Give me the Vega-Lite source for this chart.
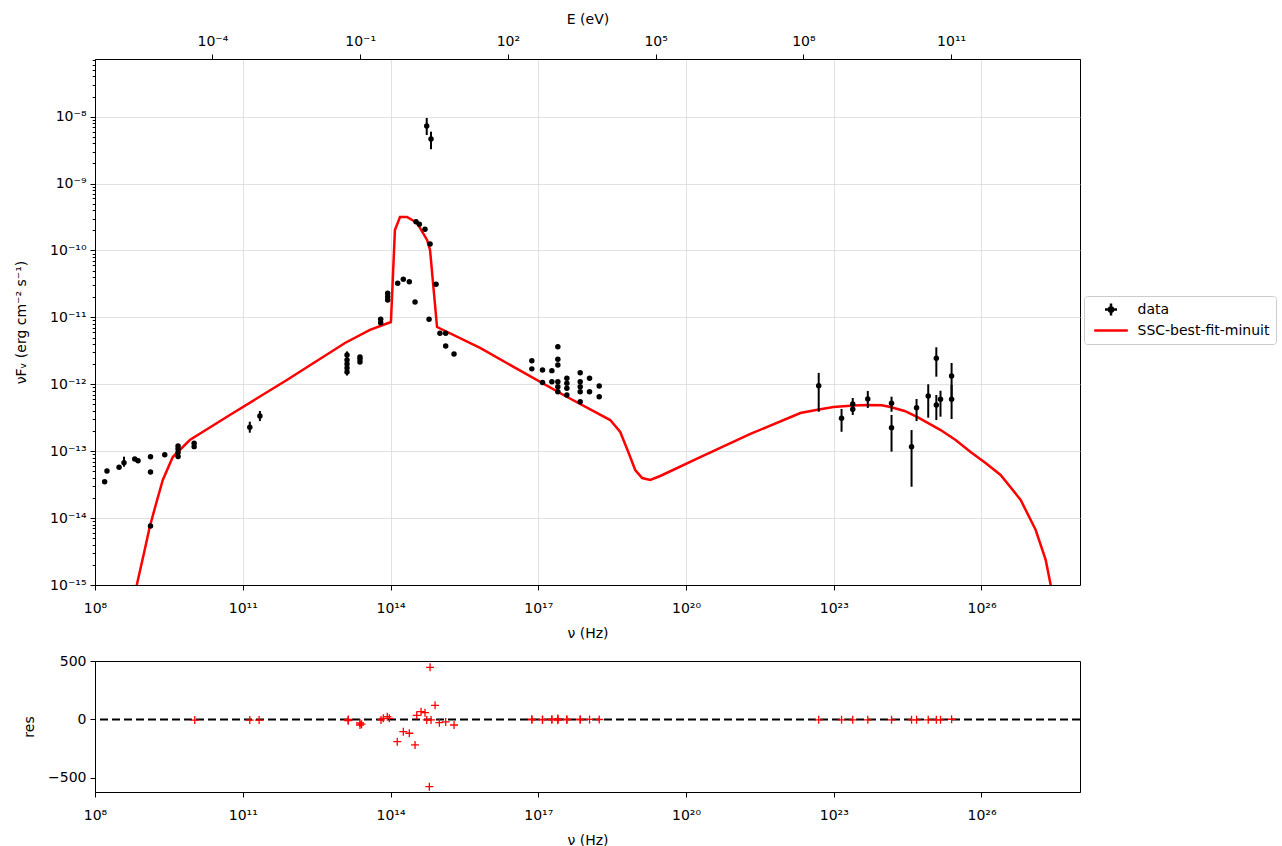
{
  "$schema": "https://vega.github.io/schema/vega-lite/v6.json",
  "padding": {"left": 14, "top": 11, "right": 0, "bottom": 0},
  "background": "white",
  "config": {
    "font": "DejaVu Sans",
    "view": {"stroke": "black", "strokeWidth": 1},
    "axis": {
      "labelFont": "DejaVu Sans", "labelFontSize": 14, "labelColor": "black",
      "titleFont": "DejaVu Sans", "titleFontSize": 14, "titleFontWeight": "normal", "titleColor": "black",
      "domainColor": "black", "tickColor": "black", "tickSize": 5, "labelPadding": 4,
      "gridColor": "#d9d9d9", "gridWidth": 0.8, "labelFlush": false, "labelOverlap": false
    }
  },
  "datasets": {
    "points": [
      {"nu": 1.57e8, "flux": 3.5e-14},
      {"nu": 1.75e8, "flux": 5.06e-14},
      {"nu": 3.08e8, "flux": 5.74e-14},
      {"nu": 3.88e8, "flux": 6.73e-14, "lo": 5.86e-14, "hi": 8.28e-14},
      {"nu": 6.41e8, "flux": 7.64e-14},
      {"nu": 7.48e8, "flux": 7.21e-14},
      {"nu": 1.34e9, "flux": 8.28e-14},
      {"nu": 1.34e9, "flux": 4.89e-14},
      {"nu": 1.34e9, "flux": 7.62e-15},
      {"nu": 2.61e9, "flux": 8.87e-14},
      {"nu": 4.86e9, "flux": 1.2e-13},
      {"nu": 4.86e9, "flux": 1.08e-13},
      {"nu": 4.86e9, "flux": 9.6e-14},
      {"nu": 4.86e9, "flux": 8.3e-14},
      {"nu": 1.03e10, "flux": 1.31e-13},
      {"nu": 1.03e10, "flux": 1.17e-13},
      {"nu": 1.39e11, "flux": 2.28e-13, "lo": 1.89e-13, "hi": 2.76e-13},
      {"nu": 2.23e11, "flux": 3.36e-13, "lo": 2.82e-13, "hi": 3.99e-13},
      {"nu": 1.31e13, "flux": 2.74e-12, "lo": 2.4e-12, "hi": 3.1e-12},
      {"nu": 1.31e13, "flux": 2.31e-12},
      {"nu": 1.31e13, "flux": 2.01e-12},
      {"nu": 1.31e13, "flux": 1.75e-12},
      {"nu": 1.31e13, "flux": 1.53e-12, "lo": 1.35e-12, "hi": 1.75e-12},
      {"nu": 2.4e13, "flux": 2.56e-12},
      {"nu": 2.4e13, "flux": 2.39e-12},
      {"nu": 2.4e13, "flux": 2.15e-12},
      {"nu": 6.32e13, "flux": 9.38e-12},
      {"nu": 6.32e13, "flux": 8.34e-12},
      {"nu": 8.77e13, "flux": 2.29e-11},
      {"nu": 8.77e13, "flux": 2.04e-11},
      {"nu": 8.77e13, "flux": 1.82e-11},
      {"nu": 1.4e14, "flux": 3.24e-11},
      {"nu": 1.82e14, "flux": 3.72e-11},
      {"nu": 2.41e14, "flux": 3.42e-11},
      {"nu": 3.15e14, "flux": 1.7e-11},
      {"nu": 3.3e14, "flux": 2.69e-10},
      {"nu": 3.85e14, "flux": 2.47e-10},
      {"nu": 5.02e14, "flux": 2.08e-10},
      {"nu": 5.44e14, "flux": 7.26e-9, "lo": 5.32e-9, "hi": 9.57e-9},
      {"nu": 6.07e14, "flux": 9.38e-12},
      {"nu": 6.36e14, "flux": 1.25e-10},
      {"nu": 6.65e14, "flux": 4.65e-9, "lo": 3.26e-9, "hi": 5.97e-9},
      {"nu": 8.41e14, "flux": 3.13e-11},
      {"nu": 1.01e15, "flux": 5.78e-12},
      {"nu": 1.32e15, "flux": 5.78e-12},
      {"nu": 1.32e15, "flux": 3.73e-12},
      {"nu": 1.95e15, "flux": 2.84e-12},
      {"nu": 7.41e16, "flux": 2.25e-12},
      {"nu": 7.41e16, "flux": 1.7e-12},
      {"nu": 1.22e17, "flux": 1.64e-12},
      {"nu": 1.22e17, "flux": 1.06e-12},
      {"nu": 1.89e17, "flux": 1.6e-12},
      {"nu": 1.89e17, "flux": 1.09e-12},
      {"nu": 2.5e17, "flux": 3.65e-12},
      {"nu": 2.5e17, "flux": 2.37e-12},
      {"nu": 2.5e17, "flux": 1.95e-12},
      {"nu": 2.5e17, "flux": 1.09e-12},
      {"nu": 2.5e17, "flux": 9.2e-13},
      {"nu": 2.5e17, "flux": 7.74e-13},
      {"nu": 3.81e17, "flux": 1.23e-12},
      {"nu": 3.81e17, "flux": 1.04e-12},
      {"nu": 3.81e17, "flux": 8.71e-13},
      {"nu": 3.81e17, "flux": 6.92e-13},
      {"nu": 7.11e17, "flux": 1.49e-12},
      {"nu": 7.11e17, "flux": 1.09e-12},
      {"nu": 7.11e17, "flux": 9.2e-13},
      {"nu": 7.11e17, "flux": 7.74e-13},
      {"nu": 7.11e17, "flux": 5.5e-13},
      {"nu": 1.1e18, "flux": 1.23e-12},
      {"nu": 1.1e18, "flux": 7.74e-13},
      {"nu": 1.73e18, "flux": 9.44e-13},
      {"nu": 1.73e18, "flux": 6.53e-13},
      {"nu": 4.95e22, "flux": 9.53e-13, "lo": 3.89e-13, "hi": 1.48e-12},
      {"nu": 1.44e23, "flux": 3.1e-13, "lo": 1.95e-13, "hi": 4.28e-13},
      {"nu": 2.43e23, "flux": 5.08e-13, "lo": 3.99e-13, "hi": 6.24e-13},
      {"nu": 2.43e23, "flux": 4.23e-13, "lo": 3.48e-13, "hi": 5.08e-13},
      {"nu": 4.91e23, "flux": 6.03e-13, "lo": 4.43e-13, "hi": 7.94e-13},
      {"nu": 1.49e24, "flux": 5.2e-13, "lo": 3.89e-13, "hi": 6.53e-13},
      {"nu": 1.49e24, "flux": 2.24e-13, "lo": 9.84e-14, "hi": 3.48e-13},
      {"nu": 3.8e24, "flux": 1.17e-13, "lo": 2.94e-14, "hi": 2.07e-13},
      {"nu": 4.8e24, "flux": 4.47e-13, "lo": 2.82e-13, "hi": 6.03e-13},
      {"nu": 8.29e24, "flux": 6.68e-13, "lo": 3.17e-13, "hi": 1.0e-12},
      {"nu": 1.21e25, "flux": 2.45e-12, "lo": 1.3e-12, "hi": 3.57e-12},
      {"nu": 1.21e25, "flux": 4.91e-13, "lo": 2.92e-13, "hi": 6.92e-13},
      {"nu": 1.47e25, "flux": 5.97e-13, "lo": 3.28e-13, "hi": 8.01e-13},
      {"nu": 2.47e25, "flux": 1.33e-12, "lo": 6.24e-13, "hi": 2.08e-12},
      {"nu": 2.47e25, "flux": 5.97e-13, "lo": 3.03e-13, "hi": 9.77e-13}
    ],
    "model": [
      {"nu": 5.83e8, "flux": 5.01e-16},
      {"nu": 7.05e8, "flux": 1.0e-15},
      {"nu": 1.02e9, "flux": 3.33e-15},
      {"nu": 1.29e9, "flux": 7.36e-15},
      {"nu": 1.71e9, "flux": 1.57e-14},
      {"nu": 2.38e9, "flux": 3.72e-14},
      {"nu": 3.79e9, "flux": 8.18e-14},
      {"nu": 8.41e9, "flux": 1.47e-13},
      {"nu": 5.47e10, "flux": 3.48e-13},
      {"nu": 7.87e11, "flux": 1.16e-12},
      {"nu": 1.19e13, "flux": 4.14e-12},
      {"nu": 3.83e13, "flux": 6.49e-12},
      {"nu": 1.02e14, "flux": 8.53e-12},
      {"nu": 1.23e14, "flux": 2.02e-10},
      {"nu": 1.56e14, "flux": 3.17e-10},
      {"nu": 2.16e14, "flux": 3.17e-10},
      {"nu": 3.46e14, "flux": 2.58e-10},
      {"nu": 5.52e14, "flux": 1.44e-10},
      {"nu": 6.35e14, "flux": 1.02e-10},
      {"nu": 8.81e14, "flux": 7.18e-12},
      {"nu": 6.59e15, "flux": 3.49e-12},
      {"nu": 3.86e17, "flux": 6.46e-13},
      {"nu": 2.89e18, "flux": 2.92e-13},
      {"nu": 4.62e18, "flux": 1.94e-13},
      {"nu": 6.73e18, "flux": 9.73e-14},
      {"nu": 9.31e18, "flux": 5.24e-14},
      {"nu": 1.29e19, "flux": 3.97e-14},
      {"nu": 1.88e19, "flux": 3.72e-14},
      {"nu": 3.0e19, "flux": 4.26e-14},
      {"nu": 1.95e20, "flux": 8.18e-14},
      {"nu": 2.03e21, "flux": 1.81e-13},
      {"nu": 2.1e22, "flux": 3.72e-13},
      {"nu": 4.67e22, "flux": 4.16e-13},
      {"nu": 9.86e22, "flux": 4.58e-13},
      {"nu": 2.52e23, "flux": 4.82e-13},
      {"nu": 4.84e23, "flux": 4.91e-13},
      {"nu": 9.38e23, "flux": 4.85e-13},
      {"nu": 1.42e24, "flux": 4.58e-13},
      {"nu": 2.74e24, "flux": 3.99e-13},
      {"nu": 5.02e24, "flux": 3.24e-13},
      {"nu": 1.48e25, "flux": 2.07e-13},
      {"nu": 2.98e25, "flux": 1.47e-13},
      {"nu": 6.0e25, "flux": 9.73e-14},
      {"nu": 1.21e26, "flux": 6.67e-14},
      {"nu": 2.44e26, "flux": 4.41e-14},
      {"nu": 6.24e26, "flux": 1.87e-14},
      {"nu": 1.26e27, "flux": 6.64e-15},
      {"nu": 2.01e27, "flux": 2.37e-15},
      {"nu": 2.54e27, "flux": 1.0e-15},
      {"nu": 2.92e27, "flux": 5.01e-16}
    ],
    "residuals": [
      {"nu": 1.06e10, "res": -5},
      {"nu": 1.39e11, "res": -5},
      {"nu": 2.15e11, "res": -5},
      {"nu": 1.39e13, "res": -10},
      {"nu": 1.39e13, "res": 0},
      {"nu": 1.39e13, "res": -5},
      {"nu": 2.4e13, "res": -30},
      {"nu": 2.59e13, "res": -40},
      {"nu": 2.4e13, "res": -47},
      {"nu": 6.41e13, "res": -4},
      {"nu": 7.14e13, "res": 10},
      {"nu": 8.61e13, "res": 24},
      {"nu": 9.46e13, "res": 10},
      {"nu": 1.37e14, "res": -190},
      {"nu": 1.82e14, "res": -104},
      {"nu": 2.41e14, "res": -118},
      {"nu": 3.15e14, "res": -218},
      {"nu": 3.41e14, "res": 36},
      {"nu": 4.17e14, "res": 67},
      {"nu": 5.02e14, "res": 58},
      {"nu": 5.44e14, "res": -4},
      {"nu": 6.15e14, "res": -575},
      {"nu": 6.36e14, "res": 447},
      {"nu": 6.65e14, "res": -4},
      {"nu": 8.03e14, "res": 121},
      {"nu": 9.82e14, "res": -27},
      {"nu": 1.32e15, "res": -21},
      {"nu": 1.95e15, "res": -47},
      {"nu": 7.41e16, "res": 3},
      {"nu": 7.41e16, "res": -2},
      {"nu": 1.22e17, "res": -4},
      {"nu": 1.22e17, "res": 1},
      {"nu": 1.89e17, "res": 2},
      {"nu": 1.89e17, "res": -3},
      {"nu": 2.5e17, "res": 8},
      {"nu": 2.5e17, "res": 0},
      {"nu": 2.5e17, "res": -6},
      {"nu": 3.81e17, "res": 2},
      {"nu": 3.81e17, "res": -4},
      {"nu": 7.11e17, "res": 3},
      {"nu": 7.11e17, "res": -2},
      {"nu": 1.1e18, "res": 1},
      {"nu": 1.73e18, "res": 0},
      {"nu": 4.95e22, "res": -3},
      {"nu": 1.44e23, "res": -3},
      {"nu": 2.43e23, "res": -3},
      {"nu": 4.91e23, "res": -3},
      {"nu": 1.49e24, "res": -3},
      {"nu": 3.8e24, "res": -3},
      {"nu": 4.8e24, "res": -3},
      {"nu": 8.29e24, "res": -3},
      {"nu": 1.21e25, "res": -3},
      {"nu": 1.47e25, "res": -3},
      {"nu": 2.47e25, "res": 2}
    ]
  },
  "resolve": {"legend": {"color": "independent"}},
  "spacing": 12,
  "vconcat": [
    {
      "width": 985,
      "height": 526,
      "resolve": {"scale": {"x": "independent"}},
      "layer": [
        {
          "layer": [
            {
              "data": {"name": "model"},
              "mark": {"type": "line", "strokeWidth": 2.5, "clip": true},
              "encoding": {
                "x": {"field": "nu", "type": "quantitative",
                  "scale": {"type": "log", "domain": [1e8, 1e28], "nice": false},
                  "axis": {"values": [1e8, 1e11, 1e14, 1e17, 1e20, 1e23, 1e26], "title": "ν  (Hz)", "grid": true, "labelPadding": 11, "titlePadding": 11,
                    "labelExpr": "'10' + replace(replace(replace(replace(replace(replace(replace(replace(replace(replace(replace(''+round(log(datum.value)/LN10),regexp('-','g'),'⁻'),regexp('0','g'),'⁰'),regexp('1','g'),'¹'),regexp('2','g'),'²'),regexp('3','g'),'³'),regexp('4','g'),'⁴'),regexp('5','g'),'⁵'),regexp('6','g'),'⁶'),regexp('7','g'),'⁷'),regexp('8','g'),'⁸'),regexp('9','g'),'⁹')"}},
                "y": {"field": "flux", "type": "quantitative",
                  "scale": {"type": "log", "domain": [1e-15, 7.28e-8], "nice": false},
                  "axis": {
                    "title": "νFᵥ  (erg cm⁻²  s⁻¹)",
                    "titlePadding": 21,
                    "grid": true,
                    "values": [1e-15, 2e-15, 3e-15, 4e-15, 5e-15, 6e-15, 7e-15, 8e-15, 9e-15,
                      1e-14, 2e-14, 3e-14, 4e-14, 5e-14, 6e-14, 7e-14, 8e-14, 9e-14,
                      1e-13, 2e-13, 3e-13, 4e-13, 5e-13, 6e-13, 7e-13, 8e-13, 9e-13,
                      1e-12, 2e-12, 3e-12, 4e-12, 5e-12, 6e-12, 7e-12, 8e-12, 9e-12,
                      1e-11, 2e-11, 3e-11, 4e-11, 5e-11, 6e-11, 7e-11, 8e-11, 9e-11,
                      1e-10, 2e-10, 3e-10, 4e-10, 5e-10, 6e-10, 7e-10, 8e-10, 9e-10,
                      1e-9, 2e-9, 3e-9, 4e-9, 5e-9, 6e-9, 7e-9, 8e-9, 9e-9,
                      1e-8, 2e-8, 3e-8, 4e-8, 5e-8, 6e-8, 7e-8],
                    "tickSize": {"condition": {"test": "abs(log(datum.value)/LN10 - round(log(datum.value)/LN10)) < 0.01", "value": 5}, "value": 2.8},
                    "gridOpacity": {"condition": {"test": "abs(log(datum.value)/LN10 - round(log(datum.value)/LN10)) < 0.01", "value": 1}, "value": 0},
                    "labelExpr": "abs(log(datum.value)/LN10 - round(log(datum.value)/LN10)) < 0.01 ? '10' + replace(replace(replace(replace(replace(replace(replace(replace(replace(replace(replace(''+round(log(datum.value)/LN10),regexp('-','g'),'⁻'),regexp('0','g'),'⁰'),regexp('1','g'),'¹'),regexp('2','g'),'²'),regexp('3','g'),'³'),regexp('4','g'),'⁴'),regexp('5','g'),'⁵'),regexp('6','g'),'⁶'),regexp('7','g'),'⁷'),regexp('8','g'),'⁸'),regexp('9','g'),'⁹') : ''"
                  }},
                "color": {"datum": "SSC-best-fit-minuit"}
              }
            },
            {
              "data": {"name": "points"},
              "transform": [{"filter": "isValid(datum.lo)"}],
              "mark": {"type": "rule", "color": "black", "strokeWidth": 2},
              "encoding": {
                "x": {"field": "nu", "type": "quantitative"},
                "y": {"field": "lo", "type": "quantitative", "axis": {"title": "νFᵥ  (erg cm⁻²  s⁻¹)"}},
                "y2": {"field": "hi"}
              }
            },
            {
              "data": {"name": "points"},
              "mark": {"type": "point", "filled": true, "size": 30, "opacity": 1},
              "encoding": {
                "x": {"field": "nu", "type": "quantitative"},
                "y": {"field": "flux", "type": "quantitative", "axis": {"title": "νFᵥ  (erg cm⁻²  s⁻¹)"}},
                "color": {
                  "datum": "data",
                  "scale": {"domain": ["data", "SSC-best-fit-minuit"], "range": ["black", "red"]},
                  "legend": {
                    "title": null, "orient": "none", "legendX": 989, "legendY": 237,
                    "padding": 6, "strokeColor": "#cccccc", "fillColor": "white", "cornerRadius": 3,
                    "labelFontSize": 14, "labelFont": "DejaVu Sans", "labelColor": "black",
                    "symbolSize": 144, "symbolStrokeWidth": 2.5, "symbolOffset": 13.5, "labelOffset": 19, "rowPadding": 2,
                    "symbolOpacity": 1,
                    "symbolType": {"expr": "datum.value === 'data' ? 'M-1,0H1M0,-1V1M0.35,0A0.35,0.35,0,1,1,-0.35,0A0.35,0.35,0,1,1,0.35,0' : 'M-2.8,0H2.8'"},
                    "symbolStrokeColor": {"expr": "datum.value === 'data' ? 'black' : 'red'"}
                  }
                }
              }
            }
          ]
        },
        {
          "mark": {"type": "rule", "opacity": 0},
          "encoding": {
            "x": {"datum": 1, "type": "quantitative",
              "scale": {"type": "log", "domain": [4.1357e-7, 4.1357e13], "nice": false},
              "axis": {"orient": "top", "title": "E (eV)", "grid": false, "labelPadding": 6, "titlePadding": 8, "values": [1e-4, 1e-1, 1e2, 1e5, 1e8, 1e11],
                "labelExpr": "'10' + replace(replace(replace(replace(replace(replace(replace(replace(replace(replace(replace(''+round(log(datum.value)/LN10),regexp('-','g'),'⁻'),regexp('0','g'),'⁰'),regexp('1','g'),'¹'),regexp('2','g'),'²'),regexp('3','g'),'³'),regexp('4','g'),'⁴'),regexp('5','g'),'⁵'),regexp('6','g'),'⁶'),regexp('7','g'),'⁷'),regexp('8','g'),'⁸'),regexp('9','g'),'⁹')"}}
          }
        }
      ]
    },
    {
      "width": 985,
      "height": 131,
      "layer": [
        {
          "data": {"name": "residuals"},
          "transform": [{"aggregate": [{"op": "count", "as": "n"}]}],
          "mark": {"type": "rule", "color": "black", "strokeWidth": 2, "strokeDash": [8, 4]},
          "encoding": {"y": {"datum": 0, "type": "quantitative"}}
        },
        {
          "data": {"name": "residuals"},
          "mark": {"type": "point", "shape": "M-1,0H1M0,-1V1", "size": 64, "filled": false, "color": "red", "strokeWidth": 1.3, "opacity": 1},
          "encoding": {
            "x": {"field": "nu", "type": "quantitative",
              "scale": {"type": "log", "domain": [1e8, 1e28], "nice": false},
              "axis": {"values": [1e8, 1e11, 1e14, 1e17, 1e20, 1e23, 1e26], "title": "ν  (Hz)", "grid": false, "labelPadding": 11, "titlePadding": 11,
                "labelExpr": "'10' + replace(replace(replace(replace(replace(replace(replace(replace(replace(replace(replace(''+round(log(datum.value)/LN10),regexp('-','g'),'⁻'),regexp('0','g'),'⁰'),regexp('1','g'),'¹'),regexp('2','g'),'²'),regexp('3','g'),'³'),regexp('4','g'),'⁴'),regexp('5','g'),'⁵'),regexp('6','g'),'⁶'),regexp('7','g'),'⁷'),regexp('8','g'),'⁸'),regexp('9','g'),'⁹')"}},
            "y": {"field": "res", "type": "quantitative",
              "scale": {"domain": [-621, 501], "nice": false, "zero": false},
              "axis": {"title": "res", "titlePadding": 11, "grid": false, "values": [-500, 0, 500], "labelExpr": "replace(datum.label, '-', '−')"}}
          }
        }
      ]
    }
  ]
}
